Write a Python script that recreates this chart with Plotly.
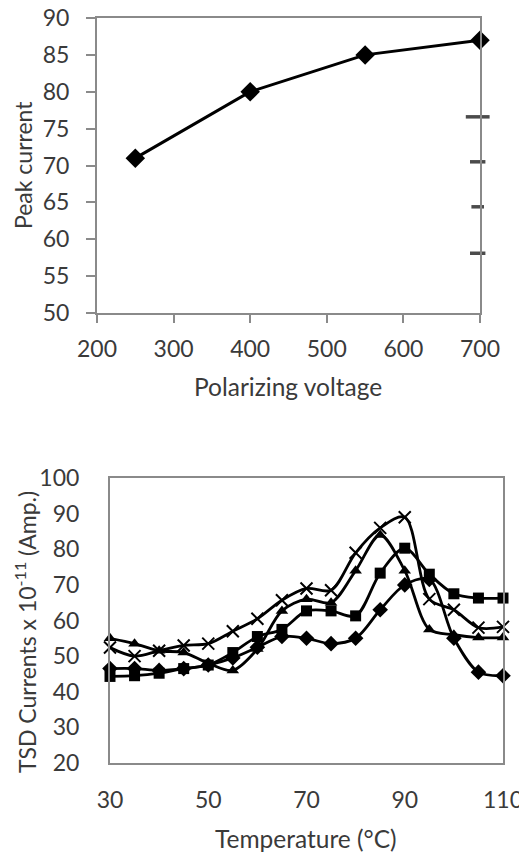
import plotly.graph_objects as go

# ---------------- data: top chart ----------------
voltage = [250, 400, 550, 700]
peak_current = [71, 80, 85, 87]
# clipped legend remnants visible at the right edge of the top chart
stub_x = [697, 697, 697, 697]
stub_levels = [76.6, 70.5, 64.4, 58.1]

top_x_ticks = [200, 300, 400, 500, 600, 700]
top_y_ticks = [50, 55, 60, 65, 70, 75, 80, 85, 90]

# ---------------- data: bottom chart ----------------
temps = [30, 35, 40, 45, 50, 55, 60, 65, 70, 75, 80, 85, 90, 95, 100, 105, 110]
s_diamond = [46.5, 46.5, 46, 46.5, 47.5, 49.5, 52.5, 55.5, 55, 53.5, 55, 63, 70, 71.5, 55, 45.5, 44.5]
s_square = [44.3, 44.5, 45.2, 46.5, 47.5, 51, 55.5, 57.5, 62.7, 62.7, 61.3, 73.3, 80.3, 73, 67.5, 66.3, 66.3]
s_triangle = [55, 53.5, 51.5, 51, 48, 46, 52, 62.7, 66, 65, 74, 84, 74, 57.5, 56, 55.2, 55.2]
s_cross = [52.4, 50, 51.5, 53, 53.5, 57, 60.5, 65.7, 69, 68.5, 79, 86, 89, 66, 63, 58, 58.2]

bot_x_ticks = [30, 50, 70, 90, 110]
bot_y_ticks = [20, 30, 40, 50, 60, 70, 80, 90, 100]

# page body adds an 8px offset; size the figure to fit the window
OFF = 8
W, H = 527 - OFF, 855 - OFF
FONT = "Lato"
TXT = "#3a3a3a"
AX = "#8a8a8a"
FS = 23
FS_T = 24.5


def fx(px):
    return (px - OFF) / W


def fy(py):
    return 1 - (py - OFF) / H


fig = go.Figure()

# top chart
fig.add_trace(go.Scatter(
    x=voltage, y=peak_current, mode="lines+markers",
    line=dict(color="black", width=3),
    marker=dict(symbol="diamond", size=15, color="black"),
    cliponaxis=False, xaxis="x", yaxis="y", showlegend=False))
fig.add_trace(go.Scatter(
    x=stub_x, y=stub_levels, mode="markers",
    marker=dict(symbol="line-ew", size=[17, 11, 9, 11], color="black",
                line=dict(color="black", width=3.5)),
    cliponaxis=False, xaxis="x", yaxis="y", showlegend=False))
fig.add_trace(go.Scatter(
    x=[stub_x[0] + 11, stub_x[1] + 7], y=stub_levels[:2], mode="markers",
    marker=dict(symbol=["line-ns", "square"], size=[11, 8], color="black",
                line=dict(color="black", width=3)),
    cliponaxis=False, xaxis="x", yaxis="y", showlegend=False))

# bottom chart
series = [
    (s_diamond, "diamond", 12, None),
    (s_square, "square", 11, None),
    (s_triangle, "triangle-up", 11, None),
    (s_cross, "x-thin-open", 12, 2),
]
for ys, sym, sz, lw in series:
    mk = dict(symbol=sym, size=sz, color="black")
    if lw:
        mk["line"] = dict(color="black", width=lw)
    fig.add_trace(go.Scatter(
        x=temps, y=ys, mode="lines+markers",
        line=dict(color="black", width=2.8, shape="spline", smoothing=0.9),
        marker=mk, cliponaxis=False, xaxis="x2", yaxis="y2", showlegend=False))

axis_common = dict(showgrid=False, zeroline=False, showline=True, linecolor=AX,
                   linewidth=2, mirror=True, automargin=False,
                   ticklabeloverflow="allow",
                   tickfont=dict(family=FONT, size=FS, color=TXT))

fig.update_layout(
    width=W, height=H,
    margin=dict(l=0, r=0, t=0, b=0, autoexpand=False),
    paper_bgcolor="white", plot_bgcolor="white",
    font=dict(family=FONT, size=FS, color=TXT),
    xaxis=dict(domain=[fx(97), fx(480)], range=[200, 700], tickvals=top_x_ticks,
               ticks="outside", ticklen=8, tickcolor=AX, tickwidth=2,
               ticklabelstandoff=6, anchor="y", **axis_common),
    yaxis=dict(domain=[fy(313), fy(18)], range=[50, 90], tickvals=top_y_ticks,
               ticks="outside", ticklen=9, tickcolor=AX, tickwidth=2,
               ticklabelstandoff=12, anchor="x", **axis_common),
    xaxis2=dict(domain=[fx(110), fx(503)], range=[30, 110], tickvals=bot_x_ticks,
                ticks="", ticklabelstandoff=15, anchor="y2", **axis_common),
    yaxis2=dict(domain=[fy(763), fy(478)], range=[20, 100], tickvals=bot_y_ticks,
                ticks="", ticklabelstandoff=24, anchor="x2", **axis_common),
    annotations=[
        dict(text="Peak current", x=fx(23), y=fy(165), xref="paper", yref="paper",
             textangle=-90, showarrow=False, xanchor="center", yanchor="middle",
             font=dict(family=FONT, size=FS, color=TXT)),
        dict(text="Polarizing voltage", x=fx(288), y=fy(387), xref="paper", yref="paper",
             showarrow=False, xanchor="center", yanchor="middle",
             font=dict(family=FONT, size=FS_T, color=TXT)),
        dict(text="TSD Currents x 10<sup>-11</sup> (Amp.)", x=fx(25), y=fy(632),
             xref="paper", yref="paper", textangle=-90, showarrow=False,
             xanchor="center", yanchor="middle",
             font=dict(family=FONT, size=FS, color=TXT)),
        dict(text="Temperature (°C)", x=fx(306), y=fy(838), xref="paper", yref="paper",
             showarrow=False, xanchor="center", yanchor="middle",
             font=dict(family=FONT, size=FS_T, color=TXT)),
    ],
)

fig.write_html("out.html")
